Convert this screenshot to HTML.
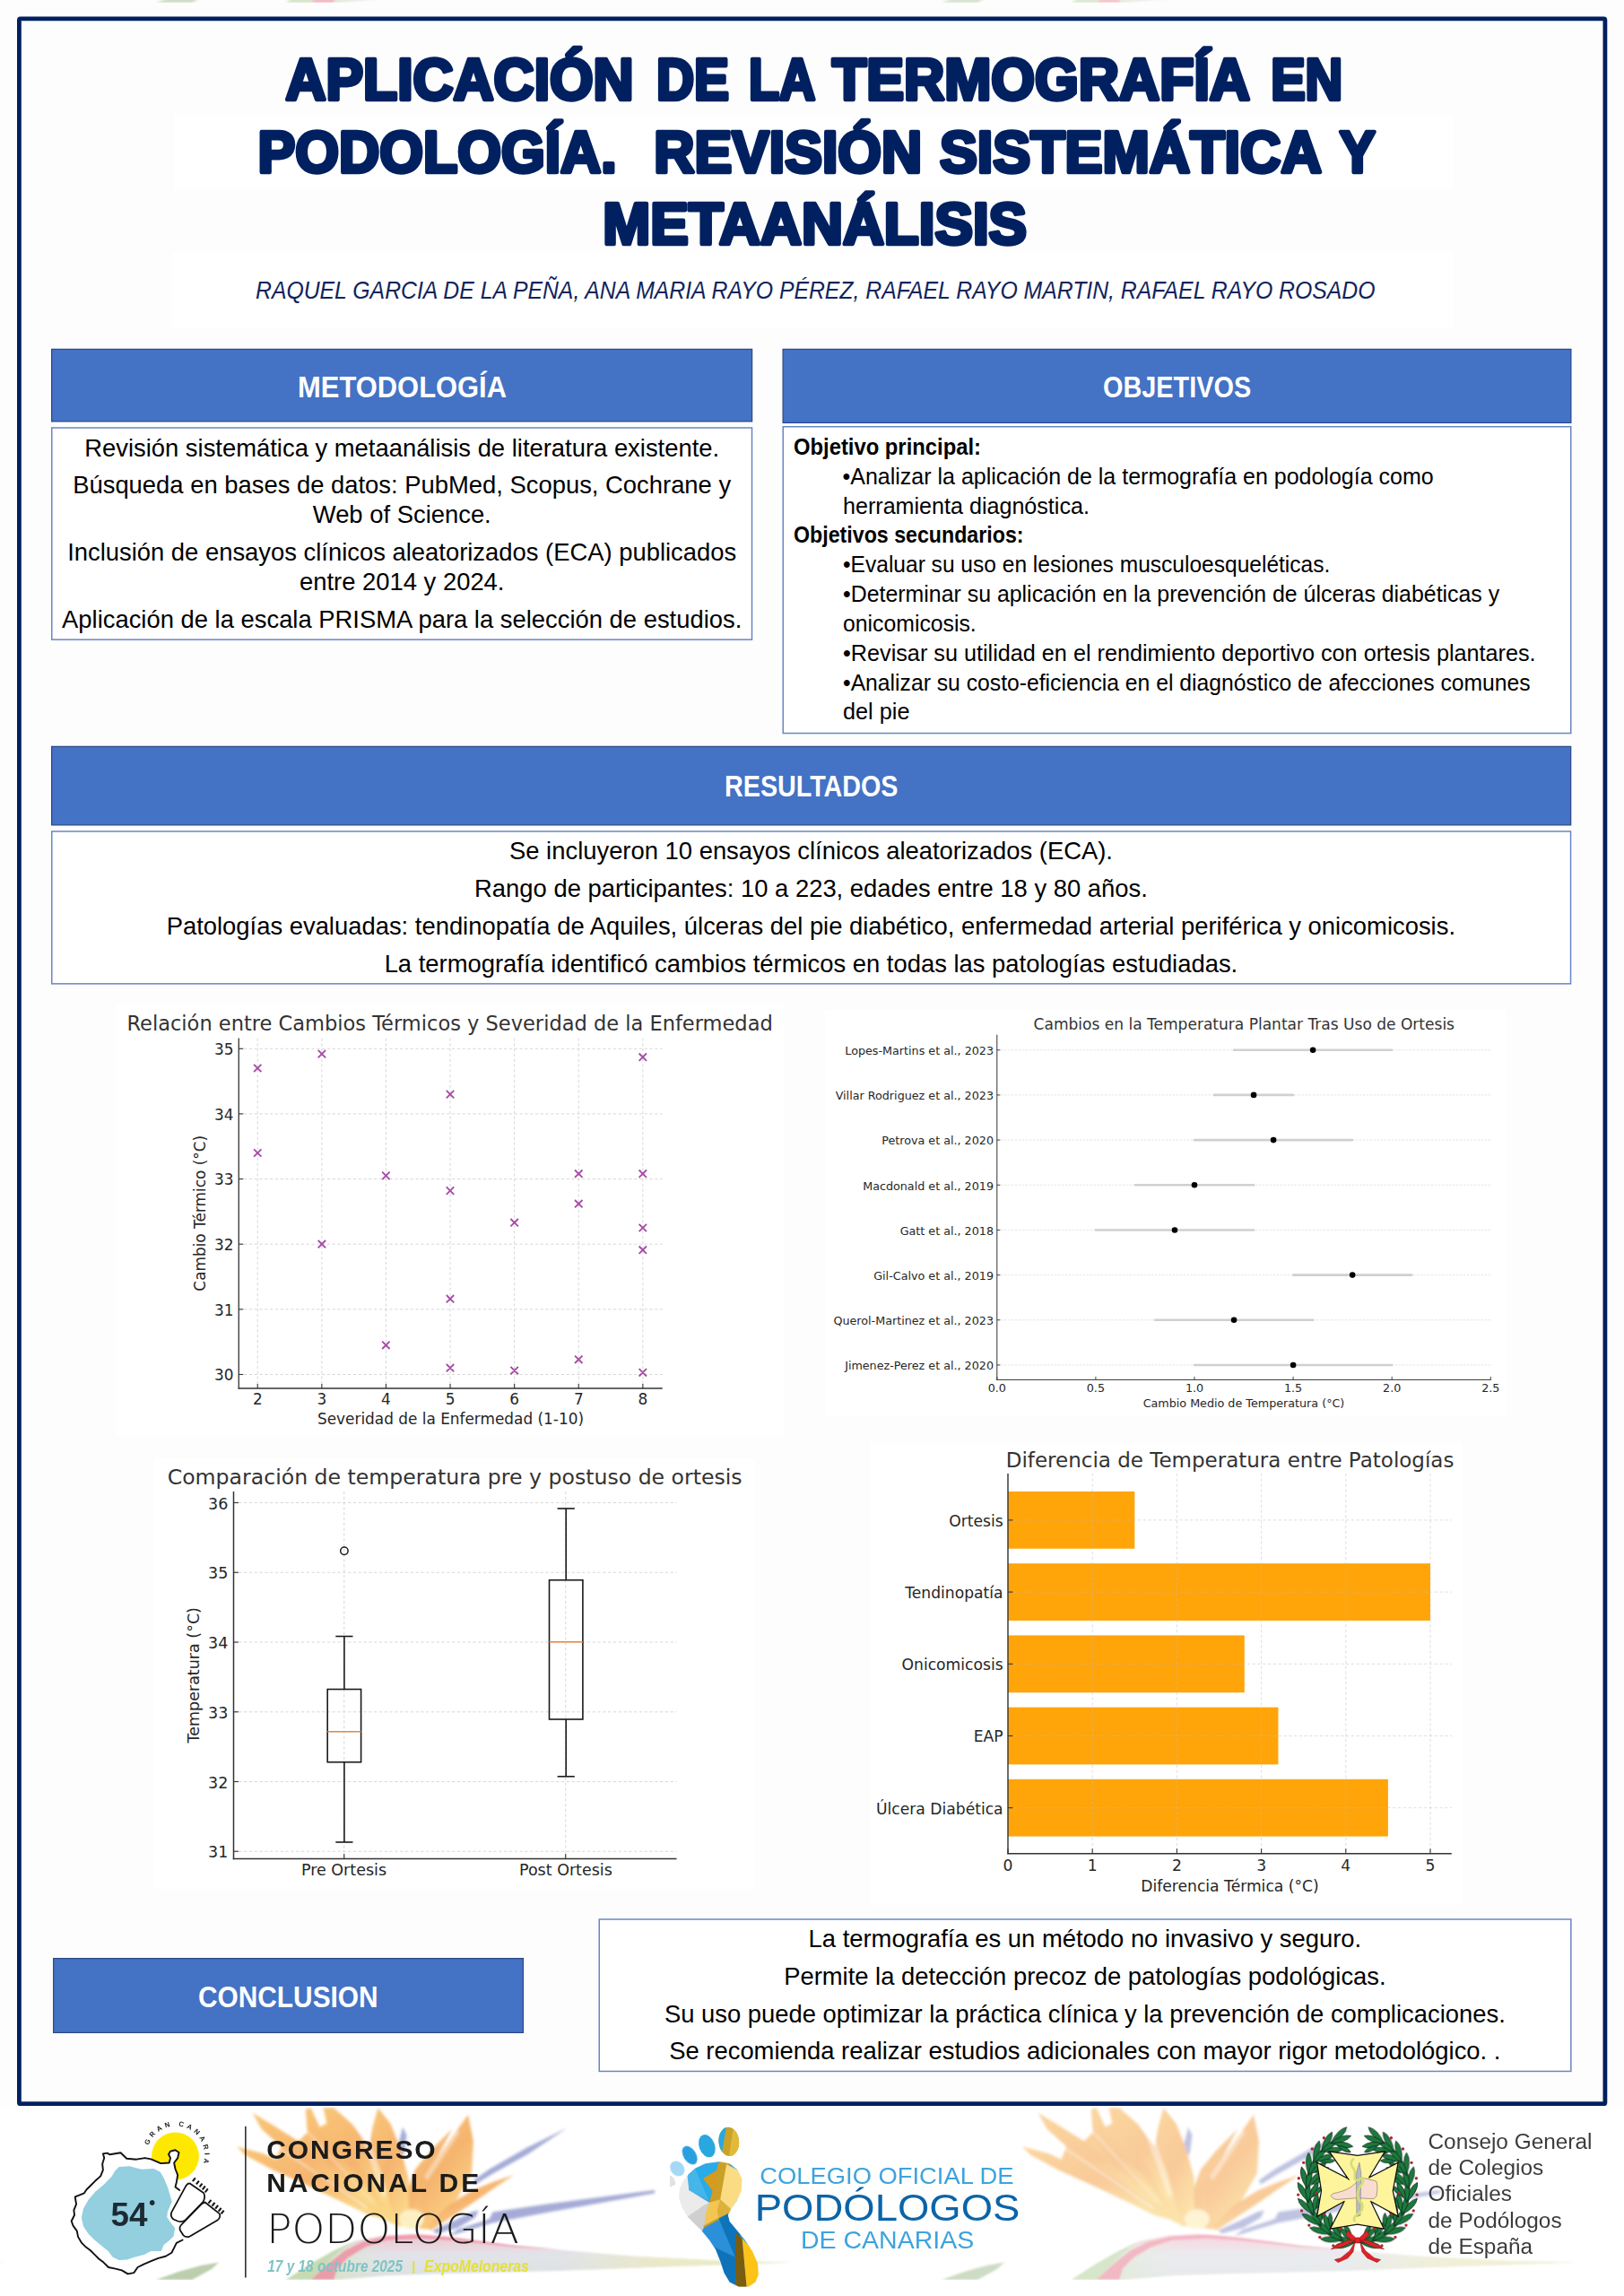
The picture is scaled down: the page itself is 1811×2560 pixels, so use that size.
<!DOCTYPE html>
<html lang="es">
<head>
<meta charset="utf-8">
<title>Aplicación de la termografía en podología. Revisión sistemática y metaanálisis</title>
<style>
html,body{margin:0;padding:0;background:#fff}
body{width:1811px;height:2560px;overflow:hidden}
#page{position:relative;width:1811px;height:2560px;background:#fdfdfd;overflow:hidden;font-family:"Liberation Sans",sans-serif;color:#000}
#page *{box-sizing:border-box}
.abs,.t,.bar,.box,svg.c{position:absolute}
.t{white-space:nowrap;line-height:1;margin:0;padding:0;transform-origin:0 0;font-weight:normal}
.dj{font-family:"DejaVu Sans","Liberation Sans",sans-serif}
.b{font-weight:bold}
.i{font-style:italic}
.wh{background:#fff}
.bar{background:transparent}
.bar .t{color:#fff}
.box{background:transparent}
h1,h2,p,figure,footer,header,section{margin:0;padding:0}
svg{overflow:visible}
svg text{font-family:"DejaVu Sans","Liberation Sans",sans-serif}
svg text.lib,svg .lib text{font-family:"Liberation Sans",sans-serif}
svg text.ser{font-family:"Liberation Serif",serif}
</style>
</head>
<body>
<div id="page">

<div class="abs wh" style="left:194px;top:128px;width:1426px;height:82.5px"></div>
<div class="abs wh" style="left:192px;top:281px;width:1428px;height:85px"></div>
<svg class="c" style="left:0;top:0" width="1811" height="2560" viewBox="0 0 1811 2560"><rect x="21.4" y="20.9" width="1768.5" height="2324.8" rx="1.5" fill="none" stroke="#002060" stroke-width="4.8"/><rect x="57.60" y="389.35" width="781.05" height="80.55" fill="#4472c4" stroke="#2a4886" stroke-width="1.2"/><rect x="57.75" y="477.00" width="780.75" height="236.15" fill="#fff" stroke="#6a86c4" stroke-width="1.5"/><rect x="873.10" y="389.35" width="878.80" height="82.05" fill="#4472c4" stroke="#2a4886" stroke-width="1.2"/><rect x="873.25" y="475.75" width="878.50" height="341.80" fill="#fff" stroke="#6a86c4" stroke-width="1.5"/><rect x="57.60" y="832.35" width="1694.10" height="87.55" fill="#4472c4" stroke="#2a4886" stroke-width="1.2"/><rect x="57.75" y="927.00" width="1693.80" height="169.85" fill="#fff" stroke="#6a86c4" stroke-width="1.5"/><rect x="59.60" y="2183.60" width="523.80" height="82.80" fill="#4472c4" stroke="#2a4886" stroke-width="1.2"/><rect x="668.25" y="2140.00" width="1083.60" height="169.45" fill="#fff" stroke="#6a86c4" stroke-width="1.5"/><g clip-path="url(#topclip)" opacity="0.8"><use href="#flower" transform="translate(0,-2539)" opacity="0.5"/><use href="#flower" transform="translate(-876,-2539)" opacity="0.6"/></g><clipPath id="topclip"><rect x="0" y="0" width="1811" height="2.8"/></clipPath></svg>
<header>
<h1 class="abs" style="left:0;top:0;width:1811px;height:300px">
<svg class="c" style="left:0;top:0" width="1811" height="300" viewBox="0 0 1811 300">
<g fill="#002060" stroke="#002060" stroke-width="4.4" stroke-linejoin="round" font-weight="bold" font-size="64.2" class="lib">
<text x="318.45" y="111.20" class="lib" textLength="388.09" lengthAdjust="spacingAndGlyphs">APLICACIÓN</text>
<text x="731.95" y="111.20" class="lib" textLength="81.09" lengthAdjust="spacingAndGlyphs">DE</text>
<text x="834.95" y="111.20" class="lib" textLength="74.39" lengthAdjust="spacingAndGlyphs">LA</text>
<text x="927.95" y="111.20" class="lib" textLength="466.09" lengthAdjust="spacingAndGlyphs">TERMOGRAFÍA</text>
<text x="1417.15" y="111.20" class="lib" textLength="80.09" lengthAdjust="spacingAndGlyphs">EN</text>
<text x="287.45" y="191.60" class="lib" textLength="400.29" lengthAdjust="spacingAndGlyphs">PODOLOGÍA.</text>
<text x="729.25" y="191.60" class="lib" textLength="298.79" lengthAdjust="spacingAndGlyphs">REVISIÓN</text>
<text x="1047.95" y="191.60" class="lib" textLength="425.89" lengthAdjust="spacingAndGlyphs">SISTEMÁTICA</text>
<text x="1493.65" y="191.60" class="lib" textLength="39.99" lengthAdjust="spacingAndGlyphs">Y</text>
<text x="672.35" y="271.80" class="lib" textLength="472.69" lengthAdjust="spacingAndGlyphs">METAANÁLISIS</text>
</g></svg></h1>
<p class="t i" style="top:309.87px;font-size:27.80px;left:285.00px;transform:scaleX(0.8915);color:#10245c">RAQUEL GARCIA DE LA PEÑA, ANA MARIA RAYO PÉREZ, RAFAEL RAYO MARTIN, RAFAEL RAYO ROSADO</p>
</header>
<section>
<div class="bar" style="left:57px;top:388.75px;width:782.25px;height:81.75px"></div>
<h2 class="t b" style="top:413.72px;font-size:34.00px;left:331.57px;transform:scaleX(0.9094);color:#fff">METODOLOGÍA</h2>
<div class="box" style="left:57px;top:476.25px;width:782.25px;height:237.65px"></div>
<p class="t" style="top:485.56px;font-size:27.40px;left:94.22px">Revisión sistemática y metaanálisis de literatura existente.</p>
<p class="t" style="top:527.31px;font-size:27.40px;left:81.20px">Búsqueda en bases de datos: PubMed, Scopus, Cochrane y</p>
<p class="t" style="top:560.06px;font-size:27.40px;left:348.79px">Web of Science.</p>
<p class="t" style="top:602.31px;font-size:27.40px;left:75.15px">Inclusión de ensayos clínicos aleatorizados (ECA) publicados</p>
<p class="t" style="top:635.06px;font-size:27.40px;left:334.04px">entre 2014 y 2024.</p>
<p class="t" style="top:677.31px;font-size:27.40px;left:69.05px">Aplicación de la escala PRISMA para la selección de estudios.</p>
</section>
<section>
<div class="bar" style="left:872.5px;top:388.75px;width:880.00px;height:83.25px"></div>
<h2 class="t b" style="top:413.72px;font-size:34.00px;left:1229.93px;transform:scaleX(0.8486);color:#fff">OBJETIVOS</h2>
<div class="box" style="left:872.5px;top:475px;width:880.00px;height:343.30px"></div>
<p class="t b" style="top:485.99px;font-size:25.00px;left:884.60px;transform:scaleX(0.9521)">Objetivo principal:</p>
<p class="t" style="top:518.81px;font-size:25.00px;left:939.50px">•Analizar la aplicación de la termografía en podología como</p>
<p class="t" style="top:551.63px;font-size:25.00px;left:939.50px;transform:scaleX(1.0042)">herramienta diagnóstica.</p>
<p class="t b" style="top:584.45px;font-size:25.00px;left:884.60px;transform:scaleX(0.9279)">Objetivos secundarios:</p>
<p class="t" style="top:617.27px;font-size:25.00px;left:939.50px;transform:scaleX(0.9816)">•Evaluar su uso en lesiones musculoesqueléticas.</p>
<p class="t" style="top:650.09px;font-size:25.00px;left:939.50px;transform:scaleX(0.9954)">•Determinar su aplicación en la prevención de úlceras diabéticas y</p>
<p class="t" style="top:682.91px;font-size:25.00px;left:939.50px;transform:scaleX(0.9913)">onicomicosis.</p>
<p class="t" style="top:715.73px;font-size:25.00px;left:939.50px;transform:scaleX(1.0085)">•Revisar su utilidad en el rendimiento deportivo con ortesis plantares.</p>
<p class="t" style="top:748.55px;font-size:25.00px;left:939.50px;transform:scaleX(0.9881)">•Analizar su costo-eficiencia en el diagnóstico de afecciones comunes</p>
<p class="t" style="top:781.37px;font-size:25.00px;left:939.50px;transform:scaleX(1.0102)">del pie</p>
</section>
<section>
<div class="bar" style="left:57px;top:831.75px;width:1695.30px;height:88.75px"></div>
<h2 class="t b" style="top:859.22px;font-size:34.00px;left:807.74px;transform:scaleX(0.8444);color:#fff">RESULTADOS</h2>
<div class="box" style="left:57px;top:926.25px;width:1695.30px;height:171.35px"></div>
<p class="t" style="top:934.81px;font-size:27.40px;left:568.01px">Se incluyeron 10 ensayos clínicos aleatorizados (ECA).</p>
<p class="t" style="top:976.81px;font-size:27.40px;left:529.09px">Rango de participantes: 10 a 223, edades entre 18 y 80 años.</p>
<p class="t" style="top:1018.81px;font-size:27.40px;left:185.67px">Patologías evaluadas: tendinopatía de Aquiles, úlceras del pie diabético, enfermedad arterial periférica y onicomicosis.</p>
<p class="t" style="top:1060.71px;font-size:27.40px;left:428.64px">La termografía identificó cambios térmicos en todas las patologías estudiadas.</p>
<figure class="abs" style="left:130px;top:1120px;width:744px;height:480px"><svg class="c" style="left:0;top:0" width="744" height="480" viewBox="130 1120 744 480" role="img" aria-label="Relación entre Cambios Térmicos y Severidad de la Enfermedad"><rect x="130" y="1120" width="744" height="480" fill="#fff"/>
<g><line x1="287.25" y1="1157.50" x2="287.25" y2="1548.00" stroke="#d2d2d2" stroke-width="0.9" stroke-dasharray="3.2 2.6"/><line x1="358.85" y1="1157.50" x2="358.85" y2="1548.00" stroke="#d2d2d2" stroke-width="0.9" stroke-dasharray="3.2 2.6"/><line x1="430.45" y1="1157.50" x2="430.45" y2="1548.00" stroke="#d2d2d2" stroke-width="0.9" stroke-dasharray="3.2 2.6"/><line x1="502.05" y1="1157.50" x2="502.05" y2="1548.00" stroke="#d2d2d2" stroke-width="0.9" stroke-dasharray="3.2 2.6"/><line x1="573.65" y1="1157.50" x2="573.65" y2="1548.00" stroke="#d2d2d2" stroke-width="0.9" stroke-dasharray="3.2 2.6"/><line x1="645.25" y1="1157.50" x2="645.25" y2="1548.00" stroke="#d2d2d2" stroke-width="0.9" stroke-dasharray="3.2 2.6"/><line x1="716.85" y1="1157.50" x2="716.85" y2="1548.00" stroke="#d2d2d2" stroke-width="0.9" stroke-dasharray="3.2 2.6"/><line x1="266.25" y1="1532.50" x2="738.75" y2="1532.50" stroke="#d2d2d2" stroke-width="0.9" stroke-dasharray="3.2 2.6"/><line x1="266.25" y1="1459.85" x2="738.75" y2="1459.85" stroke="#d2d2d2" stroke-width="0.9" stroke-dasharray="3.2 2.6"/><line x1="266.25" y1="1387.20" x2="738.75" y2="1387.20" stroke="#d2d2d2" stroke-width="0.9" stroke-dasharray="3.2 2.6"/><line x1="266.25" y1="1314.55" x2="738.75" y2="1314.55" stroke="#d2d2d2" stroke-width="0.9" stroke-dasharray="3.2 2.6"/><line x1="266.25" y1="1241.90" x2="738.75" y2="1241.90" stroke="#d2d2d2" stroke-width="0.9" stroke-dasharray="3.2 2.6"/><line x1="266.25" y1="1169.25" x2="738.75" y2="1169.25" stroke="#d2d2d2" stroke-width="0.9" stroke-dasharray="3.2 2.6"/></g>
<path d="M283.1 1186.8L291.4 1195.2M283.1 1195.2L291.4 1186.8M283.1 1281.3L291.4 1289.7M283.1 1289.7L291.4 1281.3M354.7 1170.9L363.1 1179.3M354.7 1179.3L363.1 1170.9M354.7 1383.0L363.1 1391.4M354.7 1391.4L363.1 1383.0M426.2 1306.7L434.6 1315.1M426.2 1315.1L434.6 1306.7M426.2 1495.6L434.6 1504.0M426.2 1504.0L434.6 1495.6M497.8 1215.9L506.2 1224.3M497.8 1224.3L506.2 1215.9M497.8 1323.4L506.2 1331.8M497.8 1331.8L506.2 1323.4M497.8 1444.0L506.2 1452.4M497.8 1452.4L506.2 1444.0M497.8 1521.0L506.2 1529.4M497.8 1529.4L506.2 1521.0M569.4 1359.0L577.9 1367.4M569.4 1367.4L577.9 1359.0M569.4 1523.9L577.9 1532.3M569.4 1532.3L577.9 1523.9M641.0 1304.5L649.5 1312.9M641.0 1312.9L649.5 1304.5M641.0 1338.0L649.5 1346.4M641.0 1346.4L649.5 1338.0M641.0 1511.6L649.5 1520.0M641.0 1520.0L649.5 1511.6M712.6 1174.5L721.0 1182.9M712.6 1182.9L721.0 1174.5M712.6 1304.5L721.0 1312.9M712.6 1312.9L721.0 1304.5M712.6 1364.8L721.0 1373.2M712.6 1373.2L721.0 1364.8M712.6 1389.5L721.0 1397.9M712.6 1397.9L721.0 1389.5M712.6 1526.1L721.0 1534.5M712.6 1534.5L721.0 1526.1" stroke="#a64ca6" stroke-width="1.9" fill="none"/>
<g><line x1="266.25" y1="1157.50" x2="266.25" y2="1548.60" stroke="#333333" stroke-width="1.3" /><line x1="265.65" y1="1548.00" x2="738.75" y2="1548.00" stroke="#333333" stroke-width="1.3" /><line x1="287.25" y1="1548.00" x2="287.25" y2="1543.00" stroke="#333333" stroke-width="1.1" /><line x1="358.85" y1="1548.00" x2="358.85" y2="1543.00" stroke="#333333" stroke-width="1.1" /><line x1="430.45" y1="1548.00" x2="430.45" y2="1543.00" stroke="#333333" stroke-width="1.1" /><line x1="502.05" y1="1548.00" x2="502.05" y2="1543.00" stroke="#333333" stroke-width="1.1" /><line x1="573.65" y1="1548.00" x2="573.65" y2="1543.00" stroke="#333333" stroke-width="1.1" /><line x1="645.25" y1="1548.00" x2="645.25" y2="1543.00" stroke="#333333" stroke-width="1.1" /><line x1="716.85" y1="1548.00" x2="716.85" y2="1543.00" stroke="#333333" stroke-width="1.1" /><line x1="266.25" y1="1532.50" x2="271.25" y2="1532.50" stroke="#333333" stroke-width="1.1" /><line x1="266.25" y1="1459.85" x2="271.25" y2="1459.85" stroke="#333333" stroke-width="1.1" /><line x1="266.25" y1="1387.20" x2="271.25" y2="1387.20" stroke="#333333" stroke-width="1.1" /><line x1="266.25" y1="1314.55" x2="271.25" y2="1314.55" stroke="#333333" stroke-width="1.1" /><line x1="266.25" y1="1241.90" x2="271.25" y2="1241.90" stroke="#333333" stroke-width="1.1" /><line x1="266.25" y1="1169.25" x2="271.25" y2="1169.25" stroke="#333333" stroke-width="1.1" /></g>
<text x="287.25" y="1565.60" font-size="16.90" fill="#262626" text-anchor="middle">2</text>
<text x="358.85" y="1565.60" font-size="16.90" fill="#262626" text-anchor="middle">3</text>
<text x="430.45" y="1565.60" font-size="16.90" fill="#262626" text-anchor="middle">4</text>
<text x="502.05" y="1565.60" font-size="16.90" fill="#262626" text-anchor="middle">5</text>
<text x="573.65" y="1565.60" font-size="16.90" fill="#262626" text-anchor="middle">6</text>
<text x="645.25" y="1565.60" font-size="16.90" fill="#262626" text-anchor="middle">7</text>
<text x="716.85" y="1565.60" font-size="16.90" fill="#262626" text-anchor="middle">8</text>
<text x="260.50" y="1539.40" font-size="16.90" fill="#262626" text-anchor="end">30</text>
<text x="260.50" y="1466.75" font-size="16.90" fill="#262626" text-anchor="end">31</text>
<text x="260.50" y="1394.10" font-size="16.90" fill="#262626" text-anchor="end">32</text>
<text x="260.50" y="1321.45" font-size="16.90" fill="#262626" text-anchor="end">33</text>
<text x="260.50" y="1248.80" font-size="16.90" fill="#262626" text-anchor="end">34</text>
<text x="260.50" y="1176.15" font-size="16.90" fill="#262626" text-anchor="end">35</text>
<text x="501.60" y="1148.75" font-size="22.52" fill="#333333" text-anchor="middle">Relación entre Cambios Térmicos y Severidad de la Enfermedad</text>
<text x="502.50" y="1587.50" font-size="16.90" fill="#262626" text-anchor="middle">Severidad de la Enfermedad (1-10)</text>
<text x="229.25" y="1352.75" font-size="16.90" fill="#262626" text-anchor="middle" transform="rotate(-90 229.25 1352.75)">Cambio Térmico (°C)</text>
</svg></figure>
<figure class="abs" style="left:920px;top:1126px;width:760px;height:453px"><svg class="c" style="left:0;top:0" width="760" height="453" viewBox="920 1126 760 453" role="img" aria-label="Cambios en la Temperatura Plantar Tras Uso de Ortesis"><rect x="920" y="1126" width="760" height="453" fill="#fff"/>
<g><line x1="1111.80" y1="1170.75" x2="1662.30" y2="1170.75" stroke="#dcdcdc" stroke-width="0.8" stroke-dasharray="2.4 1.6"/><line x1="1111.80" y1="1220.92" x2="1662.30" y2="1220.92" stroke="#dcdcdc" stroke-width="0.8" stroke-dasharray="2.4 1.6"/><line x1="1111.80" y1="1271.09" x2="1662.30" y2="1271.09" stroke="#dcdcdc" stroke-width="0.8" stroke-dasharray="2.4 1.6"/><line x1="1111.80" y1="1321.26" x2="1662.30" y2="1321.26" stroke="#dcdcdc" stroke-width="0.8" stroke-dasharray="2.4 1.6"/><line x1="1111.80" y1="1371.43" x2="1662.30" y2="1371.43" stroke="#dcdcdc" stroke-width="0.8" stroke-dasharray="2.4 1.6"/><line x1="1111.80" y1="1421.60" x2="1662.30" y2="1421.60" stroke="#dcdcdc" stroke-width="0.8" stroke-dasharray="2.4 1.6"/><line x1="1111.80" y1="1471.77" x2="1662.30" y2="1471.77" stroke="#dcdcdc" stroke-width="0.8" stroke-dasharray="2.4 1.6"/><line x1="1111.80" y1="1521.94" x2="1662.30" y2="1521.94" stroke="#dcdcdc" stroke-width="0.8" stroke-dasharray="2.4 1.6"/></g><g><line x1="1376.04" y1="1170.75" x2="1552.20" y2="1170.75" stroke="#d0d0d0" stroke-width="2.6" stroke-linecap="round"/><line x1="1354.02" y1="1220.92" x2="1442.10" y2="1220.92" stroke="#d0d0d0" stroke-width="2.6" stroke-linecap="round"/><line x1="1332.00" y1="1271.09" x2="1508.16" y2="1271.09" stroke="#d0d0d0" stroke-width="2.6" stroke-linecap="round"/><line x1="1265.94" y1="1321.26" x2="1398.06" y2="1321.26" stroke="#d0d0d0" stroke-width="2.6" stroke-linecap="round"/><line x1="1221.90" y1="1371.43" x2="1398.06" y2="1371.43" stroke="#d0d0d0" stroke-width="2.6" stroke-linecap="round"/><line x1="1442.10" y1="1421.60" x2="1574.22" y2="1421.60" stroke="#d0d0d0" stroke-width="2.6" stroke-linecap="round"/><line x1="1287.96" y1="1471.77" x2="1464.12" y2="1471.77" stroke="#d0d0d0" stroke-width="2.6" stroke-linecap="round"/><line x1="1332.00" y1="1521.94" x2="1552.20" y2="1521.94" stroke="#d0d0d0" stroke-width="2.6" stroke-linecap="round"/></g><g><circle cx="1464.12" cy="1170.75" r="3.3" fill="#000"/><circle cx="1398.06" cy="1220.92" r="3.3" fill="#000"/><circle cx="1420.08" cy="1271.09" r="3.3" fill="#000"/><circle cx="1332.00" cy="1321.26" r="3.3" fill="#000"/><circle cx="1309.98" cy="1371.43" r="3.3" fill="#000"/><circle cx="1508.16" cy="1421.60" r="3.3" fill="#000"/><circle cx="1376.04" cy="1471.77" r="3.3" fill="#000"/><circle cx="1442.10" cy="1521.94" r="3.3" fill="#000"/></g>
<text x="1111.80" y="1552.20" font-size="12.72" fill="#262626" text-anchor="middle">0.0</text>
<text x="1221.90" y="1552.20" font-size="12.72" fill="#262626" text-anchor="middle">0.5</text>
<text x="1332.00" y="1552.20" font-size="12.72" fill="#262626" text-anchor="middle">1.0</text>
<text x="1442.10" y="1552.20" font-size="12.72" fill="#262626" text-anchor="middle">1.5</text>
<text x="1552.20" y="1552.20" font-size="12.72" fill="#262626" text-anchor="middle">2.0</text>
<text x="1662.30" y="1552.20" font-size="12.72" fill="#262626" text-anchor="middle">2.5</text>
<g><line x1="1111.80" y1="1153.75" x2="1111.80" y2="1538.90" stroke="#333333" stroke-width="1.0" /><line x1="1111.30" y1="1538.40" x2="1662.80" y2="1538.40" stroke="#333333" stroke-width="1.0" /><line x1="1111.80" y1="1538.40" x2="1111.80" y2="1534.90" stroke="#333333" stroke-width="0.9" /><line x1="1221.90" y1="1538.40" x2="1221.90" y2="1534.90" stroke="#333333" stroke-width="0.9" /><line x1="1332.00" y1="1538.40" x2="1332.00" y2="1534.90" stroke="#333333" stroke-width="0.9" /><line x1="1442.10" y1="1538.40" x2="1442.10" y2="1534.90" stroke="#333333" stroke-width="0.9" /><line x1="1552.20" y1="1538.40" x2="1552.20" y2="1534.90" stroke="#333333" stroke-width="0.9" /><line x1="1662.30" y1="1538.40" x2="1662.30" y2="1534.90" stroke="#333333" stroke-width="0.9" /><line x1="1111.80" y1="1170.75" x2="1115.30" y2="1170.75" stroke="#333333" stroke-width="0.9" /><line x1="1111.80" y1="1220.92" x2="1115.30" y2="1220.92" stroke="#333333" stroke-width="0.9" /><line x1="1111.80" y1="1271.09" x2="1115.30" y2="1271.09" stroke="#333333" stroke-width="0.9" /><line x1="1111.80" y1="1321.26" x2="1115.30" y2="1321.26" stroke="#333333" stroke-width="0.9" /><line x1="1111.80" y1="1371.43" x2="1115.30" y2="1371.43" stroke="#333333" stroke-width="0.9" /><line x1="1111.80" y1="1421.60" x2="1115.30" y2="1421.60" stroke="#333333" stroke-width="0.9" /><line x1="1111.80" y1="1471.77" x2="1115.30" y2="1471.77" stroke="#333333" stroke-width="0.9" /><line x1="1111.80" y1="1521.94" x2="1115.30" y2="1521.94" stroke="#333333" stroke-width="0.9" /></g>
<text x="1108.00" y="1176.05" font-size="12.72" fill="#262626" text-anchor="end">Lopes-Martins et al., 2023</text><text x="1108.00" y="1226.22" font-size="12.72" fill="#262626" text-anchor="end">Villar Rodriguez et al., 2023</text><text x="1108.00" y="1276.39" font-size="12.72" fill="#262626" text-anchor="end">Petrova et al., 2020</text><text x="1108.00" y="1326.56" font-size="12.72" fill="#262626" text-anchor="end">Macdonald et al., 2019</text><text x="1108.00" y="1376.73" font-size="12.72" fill="#262626" text-anchor="end">Gatt et al., 2018</text><text x="1108.00" y="1426.90" font-size="12.72" fill="#262626" text-anchor="end">Gil-Calvo et al., 2019</text><text x="1108.00" y="1477.07" font-size="12.72" fill="#262626" text-anchor="end">Querol-Martinez et al., 2023</text><text x="1108.00" y="1527.24" font-size="12.72" fill="#262626" text-anchor="end">Jimenez-Perez et al., 2020</text>
<text x="1387.30" y="1147.50" font-size="17.05" fill="#333333" text-anchor="middle">Cambios en la Temperatura Plantar Tras Uso de Ortesis</text>
<text x="1387.00" y="1568.70" font-size="12.72" fill="#262626" text-anchor="middle">Cambio Medio de Temperatura (°C)</text>
</svg></figure>
<figure class="abs" style="left:171px;top:1626px;width:671px;height:480px"><svg class="c" style="left:0;top:0" width="671" height="480" viewBox="171 1626 671 480" role="img" aria-label="Comparación de temperatura pre y postuso de ortesis"><rect x="171" y="1626" width="671" height="480" fill="#fff"/>
<g><line x1="383.75" y1="1663.00" x2="383.75" y2="2072.50" stroke="#d2d2d2" stroke-width="0.9" stroke-dasharray="3.2 2.6"/><line x1="630.75" y1="1663.00" x2="630.75" y2="2072.50" stroke="#d2d2d2" stroke-width="0.9" stroke-dasharray="3.2 2.6"/><line x1="260.50" y1="2064.25" x2="754.50" y2="2064.25" stroke="#d2d2d2" stroke-width="0.9" stroke-dasharray="3.2 2.6"/><line x1="260.50" y1="1986.50" x2="754.50" y2="1986.50" stroke="#d2d2d2" stroke-width="0.9" stroke-dasharray="3.2 2.6"/><line x1="260.50" y1="1908.75" x2="754.50" y2="1908.75" stroke="#d2d2d2" stroke-width="0.9" stroke-dasharray="3.2 2.6"/><line x1="260.50" y1="1831.00" x2="754.50" y2="1831.00" stroke="#d2d2d2" stroke-width="0.9" stroke-dasharray="3.2 2.6"/><line x1="260.50" y1="1753.25" x2="754.50" y2="1753.25" stroke="#d2d2d2" stroke-width="0.9" stroke-dasharray="3.2 2.6"/><line x1="260.50" y1="1675.50" x2="754.50" y2="1675.50" stroke="#d2d2d2" stroke-width="0.9" stroke-dasharray="3.2 2.6"/></g>
<g><rect x="365.20" y="1883.50" width="37.40" height="81.25" fill="none" stroke="#1a1a1a" stroke-width="1.6"/><line x1="383.90" y1="1883.50" x2="383.90" y2="1824.50" stroke="#1a1a1a" stroke-width="1.6" /><line x1="383.90" y1="1964.75" x2="383.90" y2="2054.00" stroke="#1a1a1a" stroke-width="1.6" /><line x1="374.30" y1="1824.50" x2="393.50" y2="1824.50" stroke="#1a1a1a" stroke-width="1.6" /><line x1="374.30" y1="2054.00" x2="393.50" y2="2054.00" stroke="#1a1a1a" stroke-width="1.6" /><line x1="365.20" y1="1930.75" x2="402.60" y2="1930.75" stroke="#e8843c" stroke-width="1.5" /><rect x="612.50" y="1761.75" width="37.40" height="155.25" fill="none" stroke="#1a1a1a" stroke-width="1.6"/><line x1="631.20" y1="1761.75" x2="631.20" y2="1682.00" stroke="#1a1a1a" stroke-width="1.6" /><line x1="631.20" y1="1917.00" x2="631.20" y2="1980.75" stroke="#1a1a1a" stroke-width="1.6" /><line x1="621.60" y1="1682.00" x2="640.80" y2="1682.00" stroke="#1a1a1a" stroke-width="1.6" /><line x1="621.60" y1="1980.75" x2="640.80" y2="1980.75" stroke="#1a1a1a" stroke-width="1.6" /><line x1="612.50" y1="1830.75" x2="649.90" y2="1830.75" stroke="#e8843c" stroke-width="1.5" /></g>
<circle cx="383.9" cy="1729.25" r="4.2" fill="none" stroke="#1a1a1a" stroke-width="1.5"/>
<g><line x1="260.50" y1="1663.00" x2="260.50" y2="2073.20" stroke="#333333" stroke-width="1.5" /><line x1="259.80" y1="2072.50" x2="754.50" y2="2072.50" stroke="#333333" stroke-width="1.5" /><line x1="383.75" y1="2072.50" x2="383.75" y2="2067.00" stroke="#333333" stroke-width="1.1" /><line x1="630.75" y1="2072.50" x2="630.75" y2="2067.00" stroke="#333333" stroke-width="1.1" /><line x1="260.50" y1="2064.25" x2="266.00" y2="2064.25" stroke="#333333" stroke-width="1.1" /><line x1="260.50" y1="1986.50" x2="266.00" y2="1986.50" stroke="#333333" stroke-width="1.1" /><line x1="260.50" y1="1908.75" x2="266.00" y2="1908.75" stroke="#333333" stroke-width="1.1" /><line x1="260.50" y1="1831.00" x2="266.00" y2="1831.00" stroke="#333333" stroke-width="1.1" /><line x1="260.50" y1="1753.25" x2="266.00" y2="1753.25" stroke="#333333" stroke-width="1.1" /><line x1="260.50" y1="1675.50" x2="266.00" y2="1675.50" stroke="#333333" stroke-width="1.1" /></g>
<text x="254.30" y="2071.25" font-size="17.50" fill="#262626" text-anchor="end">31</text>
<text x="254.30" y="1993.50" font-size="17.50" fill="#262626" text-anchor="end">32</text>
<text x="254.30" y="1915.75" font-size="17.50" fill="#262626" text-anchor="end">33</text>
<text x="254.30" y="1838.00" font-size="17.50" fill="#262626" text-anchor="end">34</text>
<text x="254.30" y="1760.25" font-size="17.50" fill="#262626" text-anchor="end">35</text>
<text x="254.30" y="1682.50" font-size="17.50" fill="#262626" text-anchor="end">36</text>
<text x="383.50" y="2091.25" font-size="17.50" fill="#262626" text-anchor="middle">Pre Ortesis</text>
<text x="630.90" y="2091.25" font-size="17.50" fill="#262626" text-anchor="middle">Post Ortesis</text>
<text x="507.20" y="1654.50" font-size="23.60" fill="#333333" text-anchor="middle">Comparación de temperatura pre y postuso de ortesis</text>
<text x="221.75" y="1867.75" font-size="17.50" fill="#262626" text-anchor="middle" transform="rotate(-90 221.75 1867.75)">Temperatura (°C)</text>
</svg></figure>
<figure class="abs" style="left:970px;top:1609px;width:661px;height:515px"><svg class="c" style="left:0;top:0" width="661" height="515" viewBox="970 1609 661 515" role="img" aria-label="Diferencia de Temperatura entre Patologías"><rect x="970" y="1609" width="661" height="515" fill="#fff"/>
<g><rect x="1124.00" y="1663.00" width="141.30" height="63.75" fill="#ffa50a"/><rect x="1124.00" y="1743.20" width="471.00" height="63.75" fill="#ffa50a"/><rect x="1124.00" y="1823.40" width="263.76" height="63.75" fill="#ffa50a"/><rect x="1124.00" y="1903.60" width="301.44" height="63.75" fill="#ffa50a"/><rect x="1124.00" y="1983.80" width="423.90" height="63.75" fill="#ffa50a"/></g><g><line x1="1124.00" y1="1694.88" x2="1618.80" y2="1694.88" stroke="#bfbfbf" stroke-width="0.9" stroke-dasharray="3.2 2.6" opacity="0.55"/><line x1="1124.00" y1="1775.08" x2="1618.80" y2="1775.08" stroke="#bfbfbf" stroke-width="0.9" stroke-dasharray="3.2 2.6" opacity="0.55"/><line x1="1124.00" y1="1855.28" x2="1618.80" y2="1855.28" stroke="#bfbfbf" stroke-width="0.9" stroke-dasharray="3.2 2.6" opacity="0.55"/><line x1="1124.00" y1="1935.47" x2="1618.80" y2="1935.47" stroke="#bfbfbf" stroke-width="0.9" stroke-dasharray="3.2 2.6" opacity="0.55"/><line x1="1124.00" y1="2015.67" x2="1618.80" y2="2015.67" stroke="#bfbfbf" stroke-width="0.9" stroke-dasharray="3.2 2.6" opacity="0.55"/><line x1="1124.00" y1="1643.00" x2="1124.00" y2="2066.75" stroke="#bfbfbf" stroke-width="0.9" stroke-dasharray="3.2 2.6" opacity="0.55"/><line x1="1218.20" y1="1643.00" x2="1218.20" y2="2066.75" stroke="#bfbfbf" stroke-width="0.9" stroke-dasharray="3.2 2.6" opacity="0.55"/><line x1="1312.40" y1="1643.00" x2="1312.40" y2="2066.75" stroke="#bfbfbf" stroke-width="0.9" stroke-dasharray="3.2 2.6" opacity="0.55"/><line x1="1406.60" y1="1643.00" x2="1406.60" y2="2066.75" stroke="#bfbfbf" stroke-width="0.9" stroke-dasharray="3.2 2.6" opacity="0.55"/><line x1="1500.80" y1="1643.00" x2="1500.80" y2="2066.75" stroke="#bfbfbf" stroke-width="0.9" stroke-dasharray="3.2 2.6" opacity="0.55"/><line x1="1595.00" y1="1643.00" x2="1595.00" y2="2066.75" stroke="#bfbfbf" stroke-width="0.9" stroke-dasharray="3.2 2.6" opacity="0.55"/></g>
<text x="1124.00" y="2086.30" font-size="17.15" fill="#262626" text-anchor="middle">0</text>
<text x="1218.20" y="2086.30" font-size="17.15" fill="#262626" text-anchor="middle">1</text>
<text x="1312.40" y="2086.30" font-size="17.15" fill="#262626" text-anchor="middle">2</text>
<text x="1406.60" y="2086.30" font-size="17.15" fill="#262626" text-anchor="middle">3</text>
<text x="1500.80" y="2086.30" font-size="17.15" fill="#262626" text-anchor="middle">4</text>
<text x="1595.00" y="2086.30" font-size="17.15" fill="#262626" text-anchor="middle">5</text>
<g><line x1="1124.00" y1="1643.00" x2="1124.00" y2="2067.35" stroke="#333333" stroke-width="1.4" /><line x1="1123.40" y1="2066.75" x2="1618.80" y2="2066.75" stroke="#333333" stroke-width="1.4" /><line x1="1124.00" y1="2066.75" x2="1124.00" y2="2061.25" stroke="#333333" stroke-width="1.1" /><line x1="1218.20" y1="2066.75" x2="1218.20" y2="2061.25" stroke="#333333" stroke-width="1.1" /><line x1="1312.40" y1="2066.75" x2="1312.40" y2="2061.25" stroke="#333333" stroke-width="1.1" /><line x1="1406.60" y1="2066.75" x2="1406.60" y2="2061.25" stroke="#333333" stroke-width="1.1" /><line x1="1500.80" y1="2066.75" x2="1500.80" y2="2061.25" stroke="#333333" stroke-width="1.1" /><line x1="1595.00" y1="2066.75" x2="1595.00" y2="2061.25" stroke="#333333" stroke-width="1.1" /><line x1="1124.00" y1="1694.88" x2="1129.50" y2="1694.88" stroke="#333333" stroke-width="1.1" /><line x1="1124.00" y1="1775.08" x2="1129.50" y2="1775.08" stroke="#333333" stroke-width="1.1" /><line x1="1124.00" y1="1855.28" x2="1129.50" y2="1855.28" stroke="#333333" stroke-width="1.1" /><line x1="1124.00" y1="1935.47" x2="1129.50" y2="1935.47" stroke="#333333" stroke-width="1.1" /><line x1="1124.00" y1="2015.67" x2="1129.50" y2="2015.67" stroke="#333333" stroke-width="1.1" /></g>
<text x="1118.60" y="1701.88" font-size="17.15" fill="#262626" text-anchor="end">Ortesis</text><text x="1118.60" y="1782.08" font-size="17.15" fill="#262626" text-anchor="end">Tendinopatía</text><text x="1118.60" y="1862.28" font-size="17.15" fill="#262626" text-anchor="end">Onicomicosis</text><text x="1118.60" y="1942.47" font-size="17.15" fill="#262626" text-anchor="end">EAP</text><text x="1118.60" y="2022.67" font-size="17.15" fill="#262626" text-anchor="end">Úlcera Diabética</text>
<text x="1371.60" y="1635.50" font-size="23.00" fill="#333333" text-anchor="middle">Diferencia de Temperatura entre Patologías</text>
<text x="1371.50" y="2108.75" font-size="17.15" fill="#262626" text-anchor="middle">Diferencia Térmica (°C)</text>
</svg></figure>
</section>
<section>
<div class="bar" style="left:59px;top:2183px;width:525.00px;height:84.00px"></div>
<h2 class="t b" style="top:2209.22px;font-size:34.00px;left:221.01px;transform:scaleX(0.8776);color:#fff">CONCLUSION</h2>
<div class="box" style="left:667.5px;top:2139.25px;width:1085.10px;height:170.95px"></div>
<p class="t" style="top:2148.06px;font-size:27.40px;left:901.57px">La termografía es un método no invasivo y seguro.</p>
<p class="t" style="top:2189.81px;font-size:27.40px;left:874.13px">Permite la detección precoz de patologías podológicas.</p>
<p class="t" style="top:2231.81px;font-size:27.40px;left:740.90px">Su uso puede optimizar la práctica clínica y la prevención de complicaciones.</p>
<p class="t" style="top:2273.21px;font-size:27.40px;left:746.23px">Se recomienda realizar estudios adicionales con mayor rigor metodológico. .</p>
</section>
<footer class="abs" style="left:0;top:2340px;width:1811px;height:220px">
<svg class="c" style="left:0;top:0" width="1811" height="220" viewBox="0 2340 1811 220">
<defs>
<filter id="bl" x="-5%" y="-5%" width="110%" height="110%"><feGaussianBlur stdDeviation="7"/></filter>
<filter id="bl2" x="-5%" y="-20%" width="110%" height="140%"><feGaussianBlur stdDeviation="1.2"/></filter>
<linearGradient id="sp" x1="0" y1="2490" x2="0" y2="2542" gradientUnits="userSpaceOnUse"><stop offset="0" stop-color="#ee8fa2"/><stop offset="0.18" stop-color="#e7bac6"/><stop offset="0.45" stop-color="#d6d8e0"/><stop offset="1" stop-color="#cdd4d2"/></linearGradient>
<linearGradient id="spx" x1="1193" y1="0" x2="1760" y2="0" gradientUnits="userSpaceOnUse"><stop offset="0" stop-color="#b4cf9c" stop-opacity="1"/><stop offset="0.1" stop-color="#c2d8ac" stop-opacity="0.7"/><stop offset="0.2" stop-color="#d0dcc0" stop-opacity="0"/><stop offset="0.55" stop-color="#e8e3a8" stop-opacity="0"/><stop offset="0.75" stop-color="#e6e2a6" stop-opacity="0.85"/><stop offset="1" stop-color="#dfe3b0" stop-opacity="1"/></linearGradient>
<linearGradient id="or" x1="0" y1="0" x2="0.6" y2="1"><stop offset="0" stop-color="#f7ad3c"/><stop offset="0.55" stop-color="#f29532"/><stop offset="1" stop-color="#f9c654"/></linearGradient>
<clipPath id="strip"><rect x="0" y="2349" width="1811" height="192.6"/></clipPath>
<g id="flower">
 <g transform="translate(1130,2348) scale(0.19704)">
  <g filter="url(#bl)">
  <g fill="#7e87c4">
   <path d="M990 120L1012 165L1000 260L960 340L900 420L862 445L850 400L900 340L960 240Z"/>
   <path d="M850 440L900 460L940 560L962 665L900 640L870 540Z"/>
   <path d="M1920 125L1700 272L1500 384L1400 444L1390 420L1480 358L1690 238Z"/>
   <path d="M1420 590L1400 632L1300 690L1180 722L1160 705L1280 650L1380 600Z"/>
   <path d="M1500 600L1800 556L2416 476L2416 494L1800 604L1500 662L1300 722L1250 736L1300 700L1480 640Z"/>
  </g>
  <g fill="url(#or)">
   <path d="M250 360L300 230L400 200L450 150L520 120L560 100L700 100L800 230L820 120L920 100L980 250L1020 400L1040 600L960 680L880 640L640 540L450 450Z"/>
   <path d="M50 230L200 270L350 340L520 420L700 520L850 600L880 640L800 620L640 540L450 450L250 360L100 280Z"/>
   <path d="M140 40L240 100L400 200L560 330L720 460L860 580L800 560L620 440L450 330L300 230L190 130Z"/>
   <path d="M440 20L470 10L520 120L600 250L720 380L860 560L800 540L640 400L520 280L450 150Z"/>
   <path d="M540 10L600 10L700 100L800 230L880 380L920 560L860 540L780 380L660 230L560 100Z"/>
   <path d="M850 10L920 100L980 250L1020 400L1040 600L1030 680L960 680L920 560L880 400L830 250L820 120Z"/>
   <path d="M1360 50L1390 200L1380 380L1300 520L1200 640L1120 700L1080 690L1060 560L1100 420L1180 300L1280 160Z"/>
   <path d="M1270 130L1150 250L1060 360L1020 470L1030 690L1090 690L1090 500L1160 340Z"/>
   <path d="M1620 390L1500 470L1400 540L1250 640L1150 705L1120 690L1250 560L1380 480L1500 430Z"/>
  </g>
  <g fill="#fff" opacity="0.4">
   <path d="M150 150L240 200L780 560L800 590Z"/><path d="M400 100L470 160L820 540L840 570Z"/><path d="M700 30L760 40L900 500L880 520Z"/><path d="M1290 130L1312 150L1130 420L1110 400Z"/>
  </g>
  <ellipse cx="1040" cy="640" rx="70" ry="55" fill="#fde9a8"/>
  </g>
 </g>
 <g filter="url(#bl2)">
  <path d="M1195 2542L1220.6 2525.3L1248.2 2509.6L1271.9 2498.7L1303.4 2492.8L1336.9 2490.9L1376.3 2493.8L1415.7 2498.7L1450 2503.7L1500 2508.5L1580 2515.5L1680 2520.8L1760 2522.5L1680 2525.2L1600 2528L1500 2532L1450 2533.2L1366 2535.2L1307 2537.2L1252 2542Z" fill="url(#sp)"/>
  <path d="M1195 2542L1220.6 2525.3L1248.2 2509.6L1271.9 2498.7L1303.4 2492.8L1336.9 2490.9L1376.3 2493.8L1415.7 2498.7L1450 2503.7L1500 2508.5L1580 2515.5L1680 2520.8L1760 2522.5L1680 2525.2L1600 2528L1500 2532L1450 2533.2L1366 2535.2L1307 2537.2L1252 2542Z" fill="url(#spx)"/>
  <path d="M1222.6 2542L1240.3 2525.3L1260 2509.6L1279.7 2499.7L1307.3 2493.8L1346.7 2491.8L1386.2 2495.8L1450 2503.7L1500 2507.7L1450 2505.5L1386 2498.5L1346.7 2495.5L1307.3 2497.8L1283.7 2505.6L1264 2517.5L1252.2 2529.3L1248.2 2542Z" fill="#e9607f" opacity="0.85"/>
  <path d="M1195 2542L1220.6 2525.3L1248.2 2509.6L1268 2499.7L1248.2 2515.5L1232.5 2531.2L1222.6 2542Z" fill="#aecb93"/>
  <path d="M1050 2542L1075 2533L1100 2526L1120 2522.5L1112 2530L1090 2542Z" fill="#9fb98a"/>
 </g>
</g>
</defs>
<rect x="0" y="2349" width="1811" height="211" fill="#fff"/>
<g clip-path="url(#strip)">
<use href="#flower" opacity="0.5"/>
<use href="#flower" transform="translate(-876,0)" opacity="0.7"/>
<use href="#flower" transform="translate(-1752,0)" opacity="0.5"/>
</g>
<g transform="translate(60,2360) scale(0.13547)">
<circle cx="1000" cy="325" r="195" fill="#ffe800"/>
<path d="M1035 605L1000 580L1010 540L1020 480L1000 430L990 380L1020 340L1030 295L1000 275L960 285L945 310L960 340L950 380L880 385L800 350L750 340L680 352L600 345L550 297L460 312L440 300L405 305L415 340L400 390L405 440L385 490L340 530L300 570L270 600L250 630L200 650L175 660L185 720L165 770L170 810L145 860L160 900L190 940L200 990L230 1040L260 1070L300 1100L340 1140L370 1170L410 1200L450 1240L500 1250L560 1265L610 1295L660 1285L690 1240L740 1215L800 1190L860 1165L920 1150L970 1120L990 1080L1010 1040L1060 1015L1060 800Z" fill="#fff" stroke="none"/>
<path d="M540 420L620 415L720 440L820 435L870 460L900 510L930 580L950 650L965 700L930 780L925 830L960 880L990 920L980 980L940 1020L900 1050L880 1100L800 1100L740 1130L660 1150L600 1170L540 1175L490 1150L450 1100L400 1060L340 1010L290 960L250 900L235 830L250 760L290 690L350 620L420 560L480 500L510 450Z" fill="#93cfdf" stroke="#93cfdf" stroke-width="14" stroke-linejoin="round"/>
<path d="M1035 605L1000 580L1010 540L1020 480L1000 430L990 380L1020 340L1030 295L1000 275L960 285L945 310L960 340L950 380L880 385L800 350L750 340L680 352L600 345L550 297L460 312L440 300L405 305L415 340L400 390L405 440L385 490L340 530L300 570L270 600L250 630L200 650L175 660L185 720L165 770L170 810L145 860L160 900L190 940L200 990L230 1040L260 1070L300 1100L340 1140L370 1170L410 1200L450 1240L500 1250L560 1265L610 1295L660 1285L690 1240L740 1215L800 1190L860 1165L920 1150L970 1120L990 1080L1010 1040L1060 1015" fill="none" stroke="#111" stroke-width="14" stroke-linejoin="round" stroke-linecap="round"/>
<g fill="#fff" stroke="#111" stroke-width="13" stroke-linejoin="round"><path d="M1120 550L1235 630Q1250 660 1230 700L1085 850Q1060 872 1020 860L985 845Q955 820 970 785L1085 575Q1100 548 1120 550Z"/><path d="M1245 705L1365 800Q1375 830 1350 850L1120 985Q1090 1000 1065 975L1040 935Q1030 905 1055 885L1215 720Z"/></g>
<g stroke="#111" stroke-width="15" stroke-linecap="butt"><path d="M1165 505L1143 533"/><path d="M1195 528L1173 556"/><path d="M1222 550L1200 578"/><path d="M1246 572L1224 600"/><path d="M1268 594L1246 622"/><path d="M1295 685L1273 713"/><path d="M1325 708L1303 736"/><path d="M1352 730L1330 758"/><path d="M1378 752L1356 780"/><path d="M1400 772L1378 800"/></g>
</g>
<path id="gcarc" d="M165.6 2391.9A 32.2 32.2 0 0 1 226.3 2413.6" fill="none"/>
<text font-size="7.8" font-weight="bold" fill="#222" textLength="99" lengthAdjust="spacing" class="lib"><textPath href="#gcarc">GRAN CANARIA</textPath></text>
<text x="123.40" y="2481.60" font-size="37.50" fill="#1d2a33" class="lib" font-weight="bold" textLength="41.00" lengthAdjust="spacingAndGlyphs">54</text>
<text x="167.6" y="2461.5" font-size="11" font-weight="bold" fill="#1d2a33" stroke="#1d2a33" stroke-width="2.2" class="lib">°</text>
<rect x="273.1" y="2370.8" width="1.5" height="168.7" fill="#222"/>
<text x="297.20" y="2407.10" font-size="30.00" fill="#1b1b1b" class="lib" font-weight="bold" textLength="188.50" lengthAdjust="spacing">CONGRESO</text>
<text x="297.20" y="2444.40" font-size="30.00" fill="#1b1b1b" class="lib" font-weight="bold" textLength="237.00" lengthAdjust="spacing">NACIONAL DE</text>
<text x="297.2" y="2501.3" font-size="44.5" font-weight="200" fill="#1b1b1b" textLength="281.6" lengthAdjust="spacingAndGlyphs">PODOLOGÍA</text>
<text x="298.30" y="2532.90" font-size="17.50" fill="#7fc4c3" class="lib" font-weight="bold" font-style="italic" textLength="150.70" lengthAdjust="spacingAndGlyphs">17 y 18 octubre 2025</text>
<text x="459.00" y="2532.00" font-size="15.50" fill="#e3e03a" class="lib" font-weight="bold">|</text>
<text x="473.10" y="2532.90" font-size="17.50" fill="#e4e038" class="lib" font-weight="bold" font-style="italic" textLength="116.80" lengthAdjust="spacingAndGlyphs">ExpoMeloneras</text>
<g transform="translate(730,2360) scale(0.08713)">
<clipPath id="ft"><path d="M830 575L960 600L1060 680L1120 800L1110 950L1050 1080L980 1180L940 1260L960 1340L1050 1450L1150 1570L1250 1720L1320 1880L1330 2020L1290 2120L1200 2180L1080 2180L960 2120L890 2000L840 1850L780 1700L700 1580L600 1460L500 1360L420 1280L350 1160L310 1040L320 920L370 820L430 740L520 660L650 600Z" /></clipPath>
<g clip-path="url(#ft)">
<rect x="250" y="550" width="1150" height="1700" fill="#2e9ee0"/>
<path d="M250 760L430 740L440 940L700 1100L640 1400L600 1490L250 1300Z" fill="#ebebeb"/>
<path d="M420 1280L640 1130L700 1100L650 1400L600 1490Z" fill="#cfcfcf"/>
<path d="M420 760L520 660L560 760L700 1080L440 940Z" fill="#45b5ea"/>
<path d="M520 660L830 560L790 690L620 790L740 950L700 1080L560 760Z" fill="#29abe8"/>
<path d="M830 560L980 600L900 680L810 1210L700 1100L740 950L620 790L790 690Z" fill="#d49b1f"/>
<path d="M840 570L930 610L850 1050L800 1200L740 1130L790 900Z" fill="#caa029"/>
<path d="M920 610L1060 680L1140 800L1120 950L1050 1080L980 1190L840 1060Z" fill="#fbdc82"/>
<path d="M700 1100L840 1060L980 1190L940 1250L640 1400L650 1250Z" fill="#f1c653"/>
<path d="M800 1200L840 1060L980 1190L940 1250L820 1300Z" fill="#ddb038"/>
<path d="M640 1400L820 1300L1000 1700L1040 1800L740 1660L600 1480Z" fill="#2b90d9"/>
<path d="M820 1300L940 1240L960 1340L1100 1500L1030 1800Z" fill="#0f73ba"/>
<path d="M700 1640L1040 1800L1040 2200L850 2200Z" fill="#0f73ba"/>
<path d="M1040 1480L1120 1560L1180 2200L1040 2200L1030 1800Z" fill="#7a5d10"/>
<path d="M1120 1560L1250 1700L1340 1900L1340 2030L1290 2130L1180 2200Z" fill="#fcc419"/>
<path d="M620 1400L830 1290L820 1320L640 1420Z" fill="#c99a22"/>
</g>
<g>
<clipPath id="bt"><ellipse cx="950" cy="320" rx="130" ry="185" transform="rotate(-5 950 320)"/></clipPath>
<g clip-path="url(#bt)"><rect x="800" y="120" width="300" height="400" fill="#c9a227"/><path d="M800 120L920 120L850 520L800 520Z" fill="#29a8e0"/><path d="M1010 120L1100 120L1100 520L950 520Z" fill="#e3b93c"/></g>
<ellipse cx="670" cy="375" rx="100" ry="150" transform="rotate(-20 670 375)" fill="#29a8e0"/>
<ellipse cx="450" cy="495" rx="80" ry="130" transform="rotate(-32 450 495)" fill="#2a9fe0"/>
<ellipse cx="290" cy="665" rx="85" ry="105" transform="rotate(-40 290 665)" fill="#a5d8f5"/>
<path d="M195 755Q260 770 270 870L195 900Z" fill="#e2e2e2"/>
</g>
</g>
<text x="847.30" y="2434.50" font-size="26.00" fill="#3ea3dc" class="lib" textLength="283.20" lengthAdjust="spacingAndGlyphs">COLEGIO OFICIAL DE</text>
<text x="841.80" y="2475.90" font-size="42.00" fill="#0b64a8" class="lib" textLength="295.60" lengthAdjust="spacingAndGlyphs">PODÓLOGOS</text>
<text x="893.00" y="2507.40" font-size="27.50" fill="#3ea3dc" class="lib" textLength="193.20" lengthAdjust="spacingAndGlyphs">DE CANARIAS</text>
<g transform="translate(1440,2360) scale(0.09852)">
<g fill="#1c7a3e" stroke="#0f2e1a" stroke-width="8" stroke-linejoin="round"><path transform="translate(899 1451) rotate(192)" d="M-125 0Q-38 -60 125 0Q-38 60 -125 0Z"/><path transform="translate(871 1340) rotate(136)" d="M-120 0Q-36 -58 120 0Q-36 58 -120 0Z"/><path transform="translate(859 1291) rotate(120)" d="M-85 0Q-26 -44 85 0Q-26 44 -85 0Z"/><path transform="translate(886 1398) rotate(166)" d="M-125 0Q-38 -56 125 0Q-38 56 -125 0Z"/><path transform="translate(1045 1391) rotate(177)" d="M-125 0Q-38 -60 125 0Q-38 60 -125 0Z"/><path transform="translate(990 1290) rotate(121)" d="M-120 0Q-36 -58 120 0Q-36 58 -120 0Z"/><path transform="translate(966 1246) rotate(105)" d="M-85 0Q-26 -44 85 0Q-26 44 -85 0Z"/><path transform="translate(1019 1343) rotate(151)" d="M-125 0Q-38 -56 125 0Q-38 56 -125 0Z"/><path transform="translate(1172 1294) rotate(163)" d="M-125 0Q-38 -60 125 0Q-38 60 -125 0Z"/><path transform="translate(1094 1211) rotate(107)" d="M-120 0Q-36 -58 120 0Q-36 58 -120 0Z"/><path transform="translate(1059 1174) rotate(91)" d="M-85 0Q-26 -44 85 0Q-26 44 -85 0Z"/><path transform="translate(1135 1254) rotate(137)" d="M-125 0Q-38 -56 125 0Q-38 56 -125 0Z"/><path transform="translate(1272 1167) rotate(148)" d="M-125 0Q-38 -60 125 0Q-38 60 -125 0Z"/><path transform="translate(1175 1105) rotate(92)" d="M-120 0Q-36 -58 120 0Q-36 58 -120 0Z"/><path transform="translate(1132 1079) rotate(76)" d="M-85 0Q-26 -44 85 0Q-26 44 -85 0Z"/><path transform="translate(1226 1137) rotate(122)" d="M-125 0Q-38 -56 125 0Q-38 56 -125 0Z"/><path transform="translate(1338 1017) rotate(134)" d="M-125 0Q-38 -60 125 0Q-38 60 -125 0Z"/><path transform="translate(1229 982) rotate(78)" d="M-120 0Q-36 -58 120 0Q-36 58 -120 0Z"/><path transform="translate(1181 967) rotate(62)" d="M-85 0Q-26 -44 85 0Q-26 44 -85 0Z"/><path transform="translate(1286 1000) rotate(108)" d="M-125 0Q-38 -56 125 0Q-38 56 -125 0Z"/><path transform="translate(1366 854) rotate(119)" d="M-125 0Q-38 -60 125 0Q-38 60 -125 0Z"/><path transform="translate(1251 848) rotate(63)" d="M-120 0Q-36 -58 120 0Q-36 58 -120 0Z"/><path transform="translate(1201 845) rotate(47)" d="M-85 0Q-26 -44 85 0Q-26 44 -85 0Z"/><path transform="translate(1311 851) rotate(93)" d="M-125 0Q-38 -56 125 0Q-38 56 -125 0Z"/><path transform="translate(1354 689) rotate(104)" d="M-125 0Q-38 -60 125 0Q-38 60 -125 0Z"/><path transform="translate(1242 712) rotate(48)" d="M-120 0Q-36 -58 120 0Q-36 58 -120 0Z"/><path transform="translate(1193 722) rotate(32)" d="M-85 0Q-26 -44 85 0Q-26 44 -85 0Z"/><path transform="translate(1301 700) rotate(78)" d="M-125 0Q-38 -56 125 0Q-38 56 -125 0Z"/><path transform="translate(1304 533) rotate(90)" d="M-125 0Q-38 -60 125 0Q-38 60 -125 0Z"/><path transform="translate(1200 583) rotate(34)" d="M-120 0Q-36 -58 120 0Q-36 58 -120 0Z"/><path transform="translate(1156 606) rotate(18)" d="M-85 0Q-26 -44 85 0Q-26 44 -85 0Z"/><path transform="translate(1254 557) rotate(64)" d="M-125 0Q-38 -56 125 0Q-38 56 -125 0Z"/><path transform="translate(1217 395) rotate(75)" d="M-125 0Q-38 -60 125 0Q-38 60 -125 0Z"/><path transform="translate(1130 470) rotate(19)" d="M-120 0Q-36 -58 120 0Q-36 58 -120 0Z"/><path transform="translate(1092 503) rotate(3)" d="M-85 0Q-26 -44 85 0Q-26 44 -85 0Z"/><path transform="translate(1175 431) rotate(49)" d="M-125 0Q-38 -56 125 0Q-38 56 -125 0Z"/><path transform="translate(1100 284) rotate(61)" d="M-125 0Q-38 -60 125 0Q-38 60 -125 0Z"/><path transform="translate(1035 379) rotate(5)" d="M-120 0Q-36 -58 120 0Q-36 58 -120 0Z"/><path transform="translate(1007 420) rotate(-11)" d="M-85 0Q-26 -44 85 0Q-26 44 -85 0Z"/><path transform="translate(1069 330) rotate(35)" d="M-125 0Q-38 -56 125 0Q-38 56 -125 0Z"/><path transform="translate(961 209) rotate(46)" d="M-125 0Q-38 -60 125 0Q-38 60 -125 0Z"/><path transform="translate(922 317) rotate(-10)" d="M-120 0Q-36 -58 120 0Q-36 58 -120 0Z"/><path transform="translate(905 364) rotate(-26)" d="M-85 0Q-26 -44 85 0Q-26 44 -85 0Z"/><path transform="translate(942 260) rotate(20)" d="M-125 0Q-38 -56 125 0Q-38 56 -125 0Z"/><path transform="translate(601 1451) rotate(-12)" d="M-125 0Q-38 -60 125 0Q-38 60 -125 0Z"/><path transform="translate(629 1340) rotate(44)" d="M-120 0Q-36 -58 120 0Q-36 58 -120 0Z"/><path transform="translate(641 1291) rotate(60)" d="M-85 0Q-26 -44 85 0Q-26 44 -85 0Z"/><path transform="translate(614 1398) rotate(14)" d="M-125 0Q-38 -56 125 0Q-38 56 -125 0Z"/><path transform="translate(455 1391) rotate(3)" d="M-125 0Q-38 -60 125 0Q-38 60 -125 0Z"/><path transform="translate(510 1290) rotate(59)" d="M-120 0Q-36 -58 120 0Q-36 58 -120 0Z"/><path transform="translate(534 1246) rotate(75)" d="M-85 0Q-26 -44 85 0Q-26 44 -85 0Z"/><path transform="translate(481 1343) rotate(29)" d="M-125 0Q-38 -56 125 0Q-38 56 -125 0Z"/><path transform="translate(328 1294) rotate(17)" d="M-125 0Q-38 -60 125 0Q-38 60 -125 0Z"/><path transform="translate(406 1211) rotate(73)" d="M-120 0Q-36 -58 120 0Q-36 58 -120 0Z"/><path transform="translate(441 1174) rotate(89)" d="M-85 0Q-26 -44 85 0Q-26 44 -85 0Z"/><path transform="translate(365 1254) rotate(43)" d="M-125 0Q-38 -56 125 0Q-38 56 -125 0Z"/><path transform="translate(228 1167) rotate(32)" d="M-125 0Q-38 -60 125 0Q-38 60 -125 0Z"/><path transform="translate(325 1105) rotate(88)" d="M-120 0Q-36 -58 120 0Q-36 58 -120 0Z"/><path transform="translate(368 1079) rotate(104)" d="M-85 0Q-26 -44 85 0Q-26 44 -85 0Z"/><path transform="translate(274 1137) rotate(58)" d="M-125 0Q-38 -56 125 0Q-38 56 -125 0Z"/><path transform="translate(162 1017) rotate(46)" d="M-125 0Q-38 -60 125 0Q-38 60 -125 0Z"/><path transform="translate(271 982) rotate(102)" d="M-120 0Q-36 -58 120 0Q-36 58 -120 0Z"/><path transform="translate(319 967) rotate(118)" d="M-85 0Q-26 -44 85 0Q-26 44 -85 0Z"/><path transform="translate(214 1000) rotate(72)" d="M-125 0Q-38 -56 125 0Q-38 56 -125 0Z"/><path transform="translate(134 854) rotate(61)" d="M-125 0Q-38 -60 125 0Q-38 60 -125 0Z"/><path transform="translate(249 848) rotate(117)" d="M-120 0Q-36 -58 120 0Q-36 58 -120 0Z"/><path transform="translate(299 845) rotate(133)" d="M-85 0Q-26 -44 85 0Q-26 44 -85 0Z"/><path transform="translate(189 851) rotate(87)" d="M-125 0Q-38 -56 125 0Q-38 56 -125 0Z"/><path transform="translate(146 689) rotate(76)" d="M-125 0Q-38 -60 125 0Q-38 60 -125 0Z"/><path transform="translate(258 712) rotate(132)" d="M-120 0Q-36 -58 120 0Q-36 58 -120 0Z"/><path transform="translate(307 722) rotate(148)" d="M-85 0Q-26 -44 85 0Q-26 44 -85 0Z"/><path transform="translate(199 700) rotate(102)" d="M-125 0Q-38 -56 125 0Q-38 56 -125 0Z"/><path transform="translate(196 533) rotate(90)" d="M-125 0Q-38 -60 125 0Q-38 60 -125 0Z"/><path transform="translate(300 583) rotate(146)" d="M-120 0Q-36 -58 120 0Q-36 58 -120 0Z"/><path transform="translate(344 606) rotate(162)" d="M-85 0Q-26 -44 85 0Q-26 44 -85 0Z"/><path transform="translate(246 557) rotate(116)" d="M-125 0Q-38 -56 125 0Q-38 56 -125 0Z"/><path transform="translate(283 395) rotate(105)" d="M-125 0Q-38 -60 125 0Q-38 60 -125 0Z"/><path transform="translate(370 470) rotate(161)" d="M-120 0Q-36 -58 120 0Q-36 58 -120 0Z"/><path transform="translate(408 503) rotate(177)" d="M-85 0Q-26 -44 85 0Q-26 44 -85 0Z"/><path transform="translate(325 431) rotate(131)" d="M-125 0Q-38 -56 125 0Q-38 56 -125 0Z"/><path transform="translate(400 284) rotate(119)" d="M-125 0Q-38 -60 125 0Q-38 60 -125 0Z"/><path transform="translate(465 379) rotate(175)" d="M-120 0Q-36 -58 120 0Q-36 58 -120 0Z"/><path transform="translate(493 420) rotate(191)" d="M-85 0Q-26 -44 85 0Q-26 44 -85 0Z"/><path transform="translate(431 330) rotate(145)" d="M-125 0Q-38 -56 125 0Q-38 56 -125 0Z"/><path transform="translate(539 209) rotate(134)" d="M-125 0Q-38 -60 125 0Q-38 60 -125 0Z"/><path transform="translate(578 317) rotate(190)" d="M-120 0Q-36 -58 120 0Q-36 58 -120 0Z"/><path transform="translate(595 364) rotate(206)" d="M-85 0Q-26 -44 85 0Q-26 44 -85 0Z"/><path transform="translate(558 260) rotate(160)" d="M-125 0Q-38 -56 125 0Q-38 56 -125 0Z"/></g>
<g fill="#b5252f"><circle cx="1025" cy="1461" r="17"/><circle cx="941" cy="1267" r="15"/><circle cx="1177" cy="1364" r="17"/><circle cx="1299" cy="1229" r="17"/><circle cx="1132" cy="1105" r="15"/><circle cx="1383" cy="1065" r="17"/><circle cx="1422" cy="884" r="17"/><circle cx="1218" cy="864" r="15"/><circle cx="1415" cy="698" r="17"/><circle cx="1361" cy="521" r="17"/><circle cx="1175" cy="612" r="15"/><circle cx="1264" cy="365" r="17"/><circle cx="1131" cy="241" r="17"/><circle cx="1016" cy="417" r="15"/><circle cx="475" cy="1461" r="17"/><circle cx="559" cy="1267" r="15"/><circle cx="323" cy="1364" r="17"/><circle cx="201" cy="1229" r="17"/><circle cx="368" cy="1105" r="15"/><circle cx="117" cy="1065" r="17"/><circle cx="78" cy="884" r="17"/><circle cx="282" cy="864" r="15"/><circle cx="85" cy="698" r="17"/><circle cx="139" cy="521" r="17"/><circle cx="325" cy="612" r="15"/><circle cx="236" cy="365" r="17"/><circle cx="369" cy="241" r="17"/><circle cx="484" cy="417" r="15"/></g>
<path d="M750 840L640 700L430 395L750 440L1060 395L880 690Z M750 840L880 690L1210 520L1150 840L1210 1130L900 960Z M750 840L900 960L1050 1270L750 1220L440 1270L600 960Z M750 840L600 960L290 1130L340 840L290 520L640 700Z" fill="#fdf49c" stroke="#111" stroke-width="13" stroke-linejoin="miter"/>
<path d="M620 720L880 690L900 960L600 960Z" fill="#fdf49c"/>
<path d="M800 690L960 730Q985 760 965 900Q940 940 900 930L760 920L560 935Q480 950 450 900Q450 870 520 860Q650 830 720 760Z" fill="#f9dcd0" stroke="#7a6a50" stroke-width="6"/>
<path d="M770 520L790 640L780 1120L740 1130L735 640Z" fill="#b9bcc4" stroke="#6c6c74" stroke-width="5"/>
<path d="M700 480Q660 520 690 570Q720 600 720 640Q700 760 790 700Q840 690 800 760Q700 900 800 980Q830 1060 740 1110Q690 1160 720 1180" fill="none" stroke="#d3df72" stroke-width="26" stroke-linecap="round"/>
<g fill="#e02227" stroke="#8e1216" stroke-width="6" stroke-linejoin="round"><path d="M750 1390L640 1290L620 1340L700 1420Z"/><path d="M750 1390L860 1290L880 1340L800 1420Z"/><path d="M730 1400L560 1480L450 1500L520 1450L640 1400Z"/><path d="M770 1400L940 1480L1050 1500L980 1450L860 1400Z"/><path d="M720 1420L660 1520L560 1600L490 1620L530 1650L640 1600L700 1530Z"/><path d="M780 1420L840 1520L940 1600L1010 1620L970 1650L860 1600L800 1530Z"/><circle cx="750" cy="1400" r="32"/></g>
</g>
<text x="1592.50" y="2395.60" font-size="24.39" fill="#3c3c3b" class="lib">Consejo General</text>
<text x="1592.50" y="2424.95" font-size="24.39" fill="#3c3c3b" class="lib">de Colegios</text>
<text x="1592.50" y="2454.30" font-size="24.39" fill="#3c3c3b" class="lib">Oficiales</text>
<text x="1592.50" y="2483.65" font-size="24.39" fill="#3c3c3b" class="lib">de Podólogos</text>
<text x="1592.50" y="2513.00" font-size="24.39" fill="#3c3c3b" class="lib">de España</text>
</svg></footer>
</div>
</body>
</html>
